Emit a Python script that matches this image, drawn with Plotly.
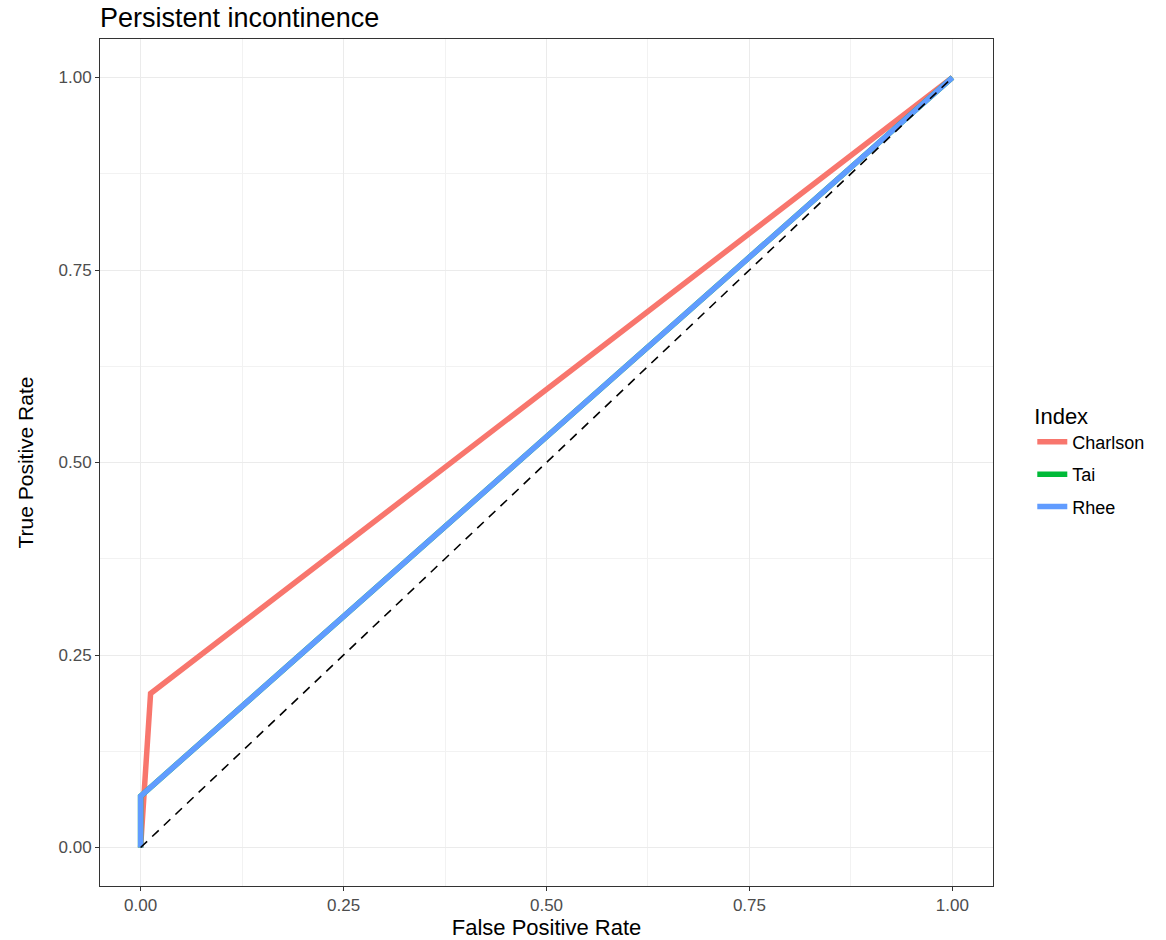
import plotly.graph_objects as go

# ROC curve points per index
charlson_fpr = [0.0, 0.0123, 1.0]
charlson_tpr = [0.0, 0.200, 1.0]
tai_fpr = [0.0, 0.0, 1.0]
tai_tpr = [0.0, 0.0667, 1.0]
rhee_fpr = [0.0, 0.0, 1.0]
rhee_tpr = [0.0, 0.0667, 1.0]

ref_x = [0.0, 1.0]
ref_y = [0.0, 1.0]

tick_vals = [0.0, 0.25, 0.5, 0.75, 1.0]
tick_text = ["0.00", "0.25", "0.50", "0.75", "1.00"]
minor_vals = [0.125, 0.375, 0.625, 0.875]

series = [
    ("Charlson", charlson_fpr, charlson_tpr, "#F8766D"),
    ("Tai", tai_fpr, tai_tpr, "#00BA38"),
    ("Rhee", rhee_fpr, rhee_tpr, "#619CFF"),
]

FONT = "Liberation Sans, Arial, sans-serif"

fig = go.Figure()
for name, xs, ys, color in series:
    fig.add_trace(go.Scatter(
        x=xs, y=ys, mode="lines", name=name, legendgroup=name,
        line=dict(color=color, width=5.5),
    ))

fig.add_trace(go.Scatter(
    x=ref_x, y=ref_y, mode="lines", showlegend=False,
    line=dict(color="black", width=1.6, dash="9px,7px"),
))

axis_common = dict(
    range=[-0.05, 1.05],
    tickvals=tick_vals,
    ticktext=tick_text,
    showgrid=True,
    gridcolor="#EBEBEB",
    gridwidth=1.3,
    zeroline=False,
    showline=True,
    linecolor="#333333",
    linewidth=1,
    mirror=True,
    ticks="outside",
    ticklen=4,
    tickcolor="#333333",
    tickfont=dict(family=FONT, size=17, color="#4D4D4D"),
    automargin=False,
    minor=dict(tickvals=minor_vals, showgrid=True,
               gridcolor="#F2F2F2", gridwidth=0.8, ticks=""),
)

fig.update_layout(
    width=1166, height=940,
    margin=dict(l=100, r=173, t=39, b=54),
    paper_bgcolor="white",
    plot_bgcolor="white",
    font=dict(family=FONT, color="black"),
    title=dict(
        text="Persistent incontinence",
        x=100 / 1166, xanchor="left",
        y=1 - 18 / 940, yanchor="middle",
        font=dict(size=27, color="black"),
    ),
    xaxis=dict(axis_common, title=dict(text="False Positive Rate",
                                       font=dict(size=22, color="black"), standoff=7)),
    yaxis=dict(axis_common, title=dict(text="True Positive Rate",
                                       font=dict(size=21, color="black"), standoff=19)),
    legend=dict(
        title=dict(text="Index", font=dict(size=22)),
        font=dict(size=18, color="black"),
        x=1.044, xanchor="left",
        y=0.503, yanchor="middle",
        tracegroupgap=6,
    ),
)

fig.write_html("out.html")
